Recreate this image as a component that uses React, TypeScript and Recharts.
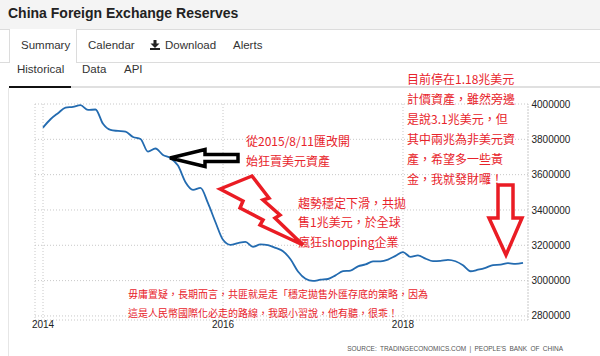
import { LineChart, Line, XAxis, YAxis, CartesianGrid, ReferenceLine } from "recharts";

// China FX reserves, USD million, monthly from Jan 2014
const firstYear = 2014;
const reserves2014 = [3866600, 3913700, 3948100, 3978900, 3983900, 3993200, 3966300, 3968800, 3887700, 3852900, 3847400, 3843000];
const reserves2015 = [3813400, 3802000, 3730000, 3748100, 3711100, 3693800, 3651300, 3557400, 3514100, 3525500, 3438300, 3330400];
const reserves2016 = [3230900, 3202300, 3212600, 3219700, 3191700, 3205200, 3201100, 3185200, 3166400, 3120700, 3051600, 3010500];
const reserves2017 = [2998200, 3005100, 3009100, 3029500, 3053600, 3056800, 3080700, 3091500, 3108500, 3109200, 3119300, 3139900];
const reserves2018 = [3161500, 3134500, 3142800, 3124900, 3110600, 3112100, 3117900, 3109700, 3087000, 3053100, 3061700, 3072700];
const reserves2019 = [3087900, 3090200, 3098800, 3094800, 3101000];

const yTicks = [2800000, 3000000, 3200000, 3400000, 3600000, 3800000, 4000000];
const xTickYears = [2014, 2016, 2018];

const monthly = [...reserves2014, ...reserves2015, ...reserves2016, ...reserves2017, ...reserves2018, ...reserves2019];
const data = monthly.map((value, i) => ({ month: i, value }));
const xTicks = xTickYears.map((y) => (y - firstYear) * 12);
const xMin = -1.067;
const xMax = 64.667;

const RED = "#e8232b";
const sans = "'Liberation Sans', Arial, sans-serif";
const cjk = "'Noto Sans CJK TC', 'Noto Sans CJK SC', sans-serif";

const noteA = ["目前停在1.18兆美元", "計價資產，雖然旁邊", "是說3.1兆美元，但", "其中兩兆為非美元資", "產，希望多一些黃", "金，我就發財囉！"];
const noteB = ["從2015/8/11匯改開", "始狂賣美元資產"];
const noteC = ["趨勢穩定下滑，共拋", "售1兆美元，於全球", "瘋狂shopping企業"];
const noteD = ["毋庸置疑，長期而言，共匪就是走「穩定拋售外匯存底的策略，因為", "這是人民幣國際化必走的路線，我跟小習說，他有聽，很乖！"];

function Note({ lines, left, top, size, lh }: { lines: string[]; left: number; top: number; size: number; lh: number }) {
  return (
    <div style={{ position: "absolute", left, top, fontFamily: cjk, fontSize: size, lineHeight: `${lh}px`, color: RED, whiteSpace: "nowrap" }}>
      {lines.map((l) => (
        <div key={l}>{l}</div>
      ))}
    </div>
  );
}

function Tab({ text, left, top }: { text: string; left: number; top: number }) {
  return (
    <div style={{ position: "absolute", left, top, fontSize: 11.5, lineHeight: "11.5px", color: "#333", whiteSpace: "nowrap" }}>
      {text}
    </div>
  );
}

export default function App() {
  return (
    <div style={{ position: "absolute", left: 0, top: 0, width: 600, height: 356, background: "#fff", overflow: "hidden", fontFamily: sans }}>
      {/* title bar */}
      <div style={{ position: "absolute", left: 0, top: 0, width: 600, height: 29, background: "#f4f4f4", borderBottom: "1px solid #dcdcdc" }} />
      <div style={{ position: "absolute", left: 8, top: 6, fontSize: 14, lineHeight: "14px", fontWeight: "bold", color: "#222", whiteSpace: "nowrap" }}>
        China Foreign Exchange Reserves
      </div>

      {/* tabs */}
      <div style={{ position: "absolute", left: 0, top: 62, width: 600, height: 1, background: "#dcdcdc" }} />
      <div style={{ position: "absolute", left: 9, top: 29, width: 66, height: 34, background: "#fff", borderLeft: "1px solid #dcdcdc", borderRight: "1px solid #dcdcdc" }} />
      <Tab text="Summary" left={21} top={40} />
      <Tab text="Calendar" left={88} top={40} />
      <svg style={{ position: "absolute", left: 150, top: 40 }} width={10} height={10}>
        <rect x={3.5} y={0} width={3} height={4} fill="#222" />
        <polygon points="0.5,3.5 9.5,3.5 5,8" fill="#222" />
        <rect x={0} y={8} width={10} height={2} fill="#222" />
      </svg>
      <Tab text="Download" left={165} top={40} />
      <Tab text="Alerts" left={233} top={40} />
      <Tab text="Historical" left={17} top={64} />
      <Tab text="Data" left={82} top={64} />
      <Tab text="API" left={124} top={64} />
      <div style={{ position: "absolute", left: 71, top: 86, width: 529, height: 1.5, background: "#e0e0e0" }} />
      <div style={{ position: "absolute", left: 9, top: 86, width: 62, height: 2, background: "#111" }} />
      <div style={{ position: "absolute", left: 8, top: 88, width: 1, height: 268, background: "#e6e6e6" }} />

      {/* chart */}
      <div style={{ position: "absolute", left: 0, top: 0 }}>
        <LineChart width={600} height={356} data={data} margin={{ top: 104, right: 12, bottom: 16, left: 35 }}>
          <CartesianGrid stroke="#c8c8c8" strokeDasharray="1 2" />
          <XAxis
            dataKey="month"
            type="number"
            domain={[xMin, xMax]}
            ticks={xTicks}
            interval={0}
            tickFormatter={(v: number) => String(firstYear + v / 12)}
            axisLine={false}
            tickLine={false}
            tickSize={0}
            tickMargin={1}
            height={20}
            tick={{ fill: "#222", fontSize: 10, fontFamily: "'Liberation Sans Narrow', " + sans }}
          />
          <YAxis
            orientation="right"
            domain={[2777000, 4000000]}
            ticks={yTicks}
            interval={0}
            axisLine={false}
            tickLine={false}
            tickSize={0}
            tickMargin={3.5}
            width={60}
            tick={{ fill: "#222", fontSize: 10, fontFamily: "'Liberation Sans Narrow', " + sans, textAnchor: "start" }}
          />
          <ReferenceLine x={xMax} stroke="#c8c8c8" strokeDasharray="1 2" />
          <Line type="monotone" dataKey="value" stroke="#236bb0" strokeWidth={1.8} dot={false} isAnimationActive={false} />
        </LineChart>
      </div>

      {/* drawn annotations */}
      <svg style={{ position: "absolute", left: 0, top: 0 }} width={600} height={356}>
        <polygon points="170,158 205,149.5 205,154.5 238,154.5 238,161.5 205,161.5 205,166.5" fill="#fff" stroke="#000" strokeWidth={3.5} />
        <polygon
          points="220,189 252,176 269,198 263,200 280,215 275,218 303,245 260,225 263,220 240,208 243,201"
          fill="none"
          stroke="#ea1c24"
          strokeWidth={3.5}
        />
        <polygon points="498,185 513,185 513,218 522,218 506,255 489,218 498,218" fill="none" stroke="#ea1c24" strokeWidth={3.5} />
      </svg>

      <Note lines={noteA} left={407} top={69} size={12} lh={20} />
      <Note lines={noteB} left={246} top={131} size={12} lh={20} />
      <Note lines={noteC} left={298} top={192.5} size={12} lh={19.5} />
      <Note lines={noteD} left={128} top={284} size={10} lh={19} />

      <div style={{ position: "absolute", left: 0, top: 345, width: 563, textAlign: "right", fontSize: 6.5, lineHeight: "8px", color: "#555", whiteSpace: "nowrap", wordSpacing: 1.5 }}>
        SOURCE: TRADINGECONOMICS.COM | PEOPLE'S BANK OF CHINA
      </div>
    </div>
  );
}
